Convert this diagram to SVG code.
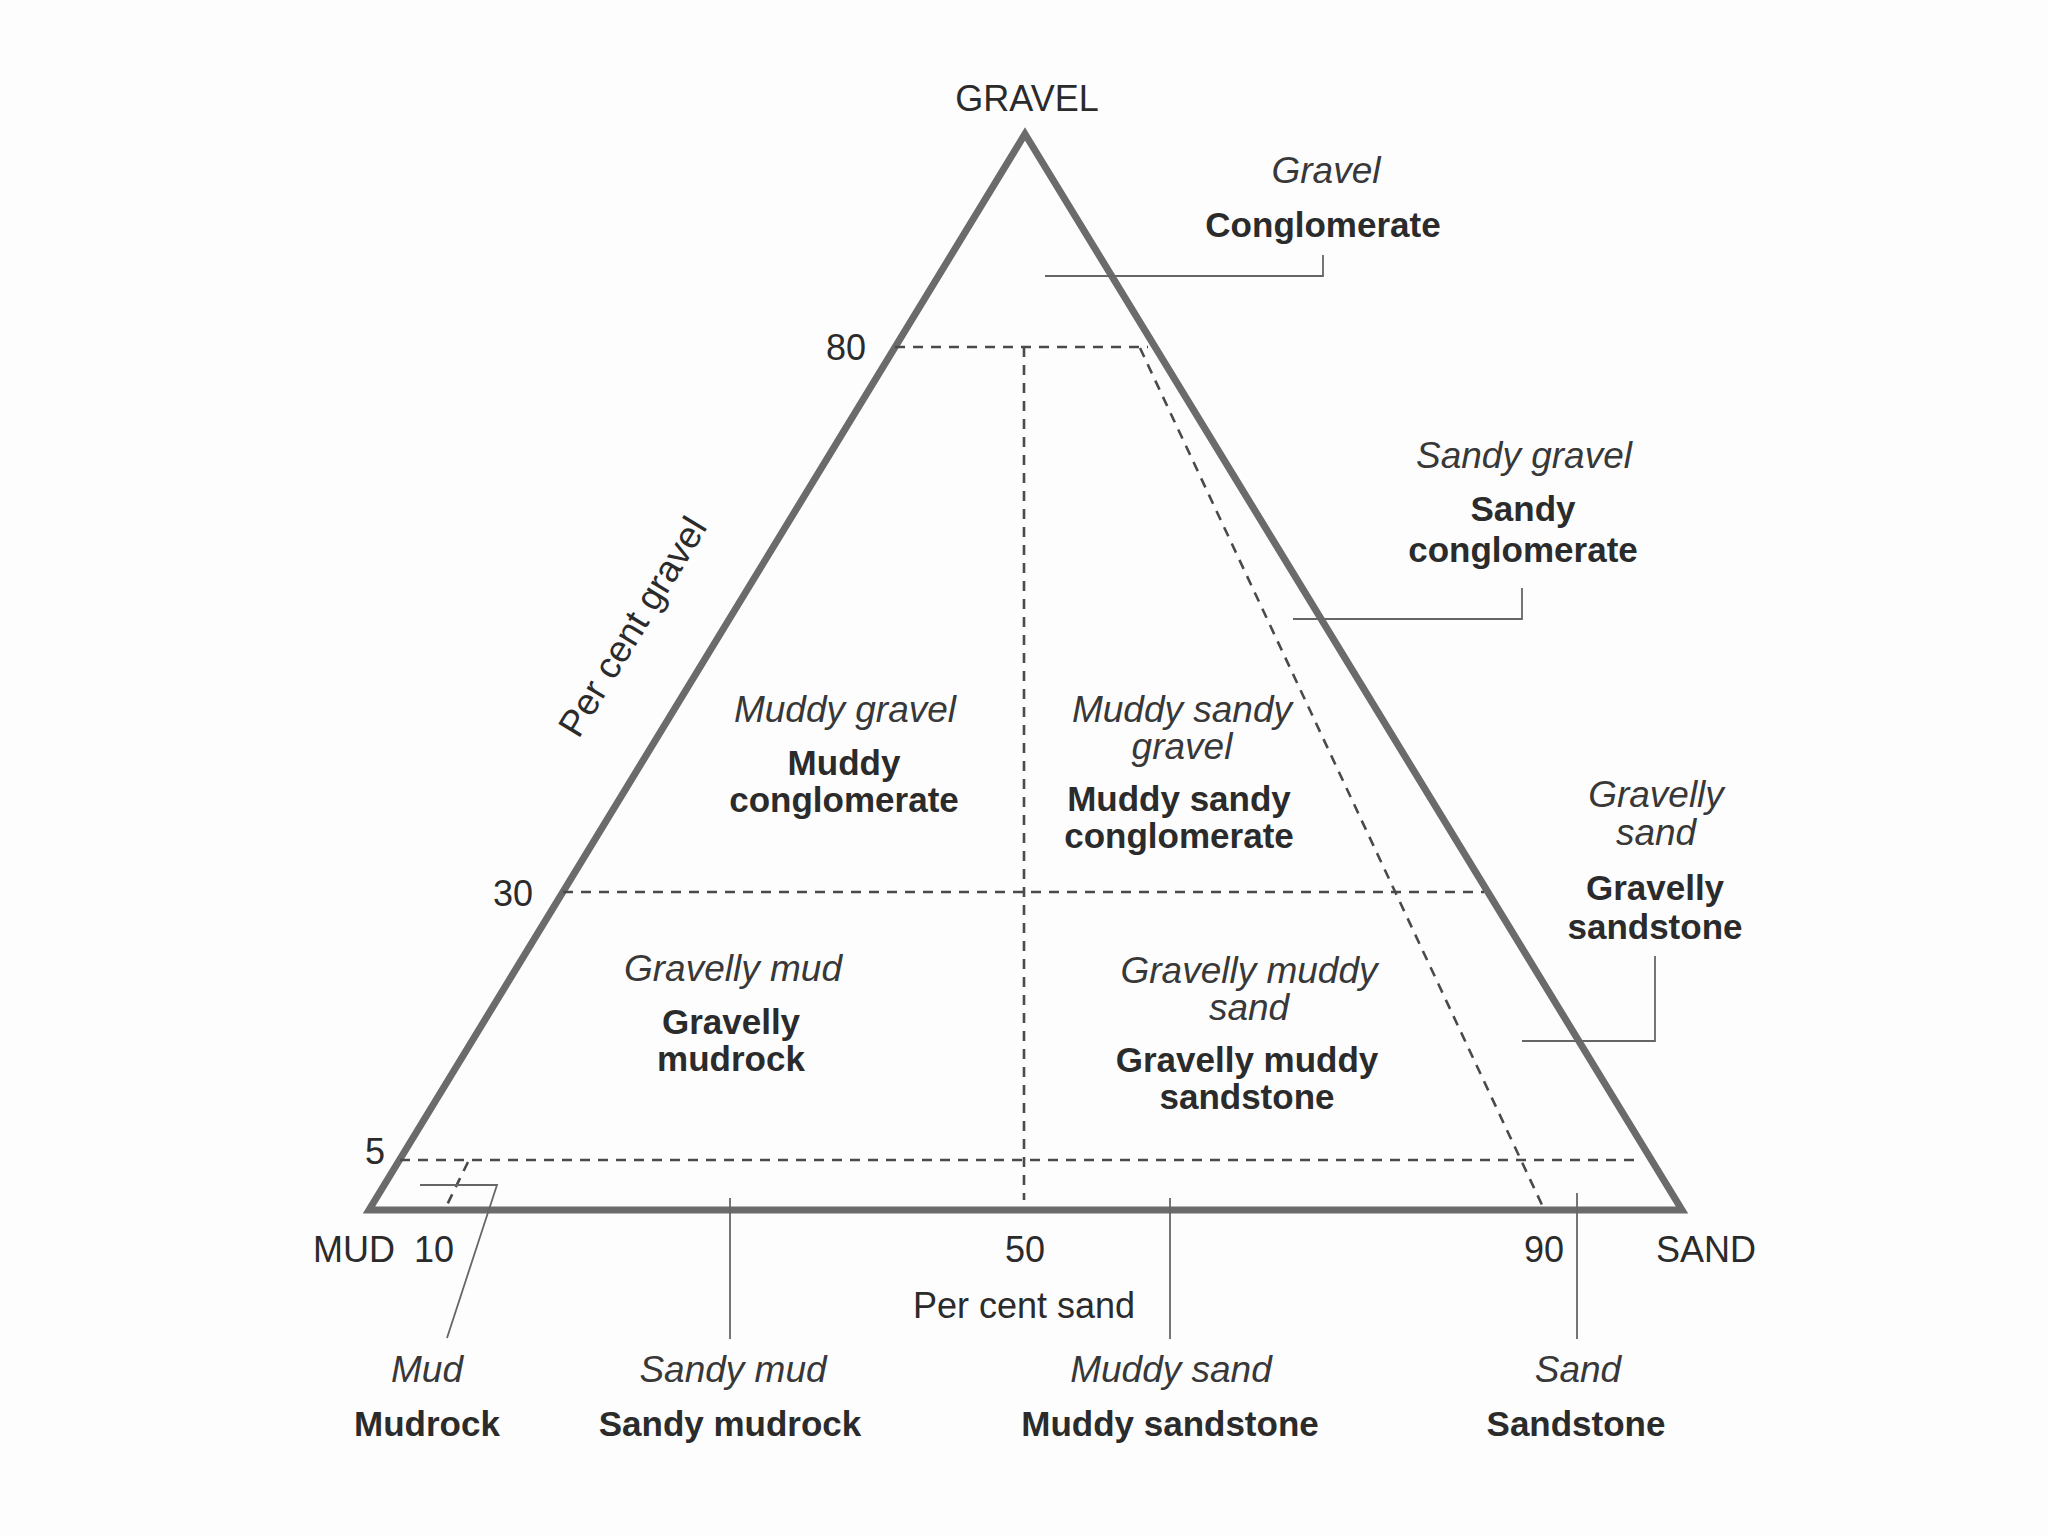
<svg xmlns="http://www.w3.org/2000/svg" width="2048" height="1536" viewBox="0 0 2048 1536">
<defs>
<style>
text{font-family:"Liberation Sans",Arial,sans-serif;fill:#2b2b2b;text-anchor:middle}
.r{font-size:36px}
.i{font-size:37px;font-style:italic;fill:#383838}
.b{font-size:35px;font-weight:bold}
.tri{fill:none;stroke:#6b6b6b;stroke-width:7;stroke-linejoin:miter}
.dash{fill:none;stroke:#4a4a4a;stroke-width:2.6;stroke-dasharray:10 8}
.lead{fill:none;stroke:#666;stroke-width:1.8}
</style>
</defs>
<rect width="2048" height="1536" fill="#fdfdfd"/>
<g id="triangle">
<polygon class="tri" points="1025,134 1682,1210 369,1210"/>
</g>
<g id="grid">
<line class="dash" x1="895" y1="347" x2="1148" y2="347"/>
<line class="dash" x1="563" y1="892" x2="1484" y2="892"/>
<line class="dash" x1="400" y1="1160" x2="1640" y2="1160"/>
<line class="dash" x1="1024" y1="347" x2="1024" y2="1200"/>
<line class="dash" x1="1140" y1="348" x2="1543" y2="1207"/>
<line class="dash" x1="468" y1="1162" x2="446" y2="1207"/>
</g>
<g id="connectors">
<polyline class="lead" points="1045,276 1323,276 1323,255"/>
<polyline class="lead" points="1293,619 1522,619 1522,588"/>
<polyline class="lead" points="1655,956 1655,1041 1522,1041"/>
<line class="lead" x1="730" y1="1198" x2="730" y2="1339"/>
<line class="lead" x1="1170" y1="1198" x2="1170" y2="1339"/>
<line class="lead" x1="1577" y1="1193" x2="1577" y2="1339"/>
<polyline class="lead" points="420,1185 497,1185 447,1338"/>
</g>
<g id="axis-labels">
<text class="r" x="1027" y="111">GRAVEL</text>
<text class="r" x="846" y="360">80</text>
<text class="r" x="513" y="906">30</text>
<text class="r" x="375" y="1164">5</text>
<text class="r" x="354" y="1262">MUD</text>
<text class="r" x="434" y="1262">10</text>
<text class="r" x="1025" y="1262">50</text>
<text class="r" x="1544" y="1262">90</text>
<text class="r" x="1706" y="1262">SAND</text>
<text class="r" x="1024" y="1318">Per cent sand</text>
<text class="r" style="font-size:37px" transform="translate(633,627) rotate(-58.6)" x="0" y="12">Per cent gravel</text>
</g>
<g id="conglomerate">
<text class="i" x="1326" y="183">Gravel</text>
<text class="b" x="1323" y="237">Conglomerate</text>
</g>
<g id="sandy-conglomerate">
<text class="i" x="1524" y="468">Sandy gravel</text>
<text class="b" x="1523" y="521">Sandy</text>
<text class="b" x="1523" y="562">conglomerate</text>
</g>
<g id="muddy-conglomerate">
<text class="i" x="845" y="722">Muddy gravel</text>
<text class="b" x="844" y="775">Muddy</text>
<text class="b" x="844" y="812">conglomerate</text>
</g>
<g id="muddy-sandy-conglomerate">
<text class="i" x="1182" y="722">Muddy sandy</text>
<text class="i" x="1182" y="759">gravel</text>
<text class="b" x="1179" y="811">Muddy sandy</text>
<text class="b" x="1179" y="848">conglomerate</text>
</g>
<g id="gravelly-sandstone">
<text class="i" x="1656" y="807">Gravelly</text>
<text class="i" x="1656" y="845">sand</text>
<text class="b" x="1655" y="900">Gravelly</text>
<text class="b" x="1655" y="939">sandstone</text>
</g>
<g id="gravelly-mudrock">
<text class="i" x="733" y="981">Gravelly mud</text>
<text class="b" x="731" y="1034">Gravelly</text>
<text class="b" x="731" y="1071">mudrock</text>
</g>
<g id="gravelly-muddy-sandstone">
<text class="i" x="1249" y="983">Gravelly muddy</text>
<text class="i" x="1249" y="1020">sand</text>
<text class="b" x="1247" y="1072">Gravelly muddy</text>
<text class="b" x="1247" y="1109">sandstone</text>
</g>
<g id="mudrock">
<text class="i" x="427" y="1382">Mud</text>
<text class="b" x="427" y="1436">Mudrock</text>
</g>
<g id="sandy-mudrock">
<text class="i" x="733" y="1382">Sandy mud</text>
<text class="b" x="730" y="1436">Sandy mudrock</text>
</g>
<g id="muddy-sandstone">
<text class="i" x="1171" y="1382">Muddy sand</text>
<text class="b" x="1170" y="1436">Muddy sandstone</text>
</g>
<g id="sandstone">
<text class="i" x="1578" y="1382">Sand</text>
<text class="b" x="1576" y="1436">Sandstone</text>
</g>
</svg>
